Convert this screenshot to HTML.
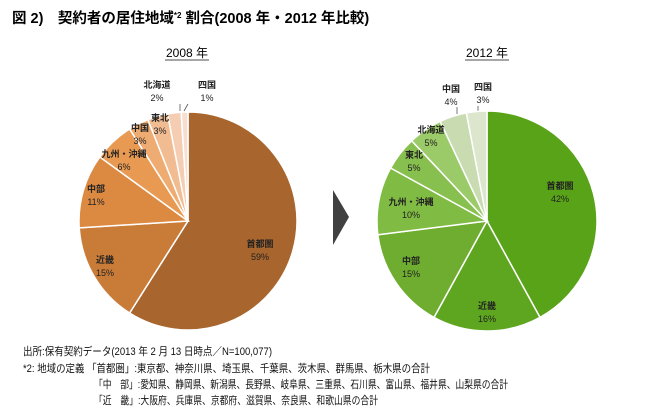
<!DOCTYPE html>
<html><head><meta charset="utf-8">
<style>
body{margin:0;background:#fff;}
svg text{font-family:"Liberation Sans","Noto Sans CJK JP",sans-serif;}
.lbl{font-size:9px;font-weight:bold;fill:#222;text-anchor:middle;}
.ft{font-size:11px;fill:#111;}
</style></head>
<body>
<svg id="chart" width="650" height="414" xmlns="http://www.w3.org/2000/svg">
<text x="12" y="23" style="font-size:14.5px;font-weight:bold">図 2)　契約者の居住地域<tspan dy="-5" font-size="8">*2</tspan><tspan dy="5"> 割合(2008 年・2012 年比較)</tspan></text>
<text x="187" y="57" style="font-size:12px" text-anchor="middle">2008 年</text>
<line x1="165" y1="60" x2="209" y2="60" stroke="#111" stroke-width="0.8"/>
<text x="487" y="57" style="font-size:12px" text-anchor="middle">2012 年</text>
<line x1="465" y1="60" x2="509" y2="60" stroke="#111" stroke-width="0.8"/>
<polygon points="333,190 349,217 333,245" fill="#404040"/>
<g stroke="#555" stroke-width="0.8">
<line x1="180" y1="104" x2="180" y2="111"/>
<line x1="184" y1="111" x2="188" y2="104"/>
<line x1="457" y1="107" x2="457" y2="114"/>
<line x1="478" y1="106" x2="478" y2="112"/>
</g>
<g id="p1"></g><g id="p2"></g>
<g>
<text class="ft" x="23" y="355" textLength="249" lengthAdjust="spacingAndGlyphs">出所:保有契約データ(2013 年 2 月 13 日時点／N=100,077)</text>
<text class="ft" x="23" y="372" textLength="407" lengthAdjust="spacingAndGlyphs">*2:  地域の定義 「首都圏」:東京都、神奈川県、埼玉県、千葉県、茨木県、群馬県、栃木県の合計</text>
<text class="ft" x="94" y="388" textLength="414" lengthAdjust="spacingAndGlyphs">「中　部」:愛知県、静岡県、新潟県、長野県、岐阜県、三重県、石川県、富山県、福井県、山梨県の合計</text>
<text class="ft" x="94" y="404" textLength="284" lengthAdjust="spacingAndGlyphs">「近　畿」:大阪府、兵庫県、京都府、滋賀県、奈良県、和歌山県の合計</text>
</g>
</svg>
<script>
const cats1=["首都圏","近畿","中部","九州・沖縄","中国","東北","北海道","四国"];
const vals1=[59,15,11,6,3,3,2,1];
const cats2=["首都圏","近畿","中部","九州・沖縄","東北","北海道","中国","四国"];
const vals2=[42,16,15,10,5,5,4,3];
const cols1=["#a8652d","#c97b38","#dc8a42","#e99a52","#eeab72","#f2bc92","#f5cdb2","#f8ded0"];
const cols2=["#59a318","#5ea61f","#6ead30","#80bb43","#88c050","#9bca68","#c9dbb1","#dce6cd"];
const lab1=[[260,247],[105,263],[96,192],[124,157],[140,131],[160,121],[157,88],[207,88]];
const lab2=[[560,189],[487,309],[411,264],[411,205],[414,158],[431,133],[451,92],[483,90]];
const NS="http://www.w3.org/2000/svg";
function pie(gid,cx,cy,r,cats,vals,cols,labs){
  const g=document.getElementById(gid);
  const tot=vals.reduce((a,b)=>a+b,0);
  let a0=-Math.PI/2;
  vals.forEach((v,i)=>{
    const a1=a0+v/tot*2*Math.PI;
    const x0=cx+r*Math.cos(a0),y0=cy+r*Math.sin(a0),x1=cx+r*Math.cos(a1),y1=cy+r*Math.sin(a1);
    const p=document.createElementNS(NS,"path");
    p.setAttribute("d",`M${cx},${cy}L${x0},${y0}A${r},${r} 0 ${a1-a0>Math.PI?1:0} 1 ${x1},${y1}Z`);
    p.setAttribute("fill",cols[i]);p.setAttribute("stroke","#fff");p.setAttribute("stroke-width","1.5");
    
    
    g.appendChild(p);
    a0=a1;
  });
  vals.forEach((v,i)=>{
    const [lx,ly]=labs[i];
    const t=document.createElementNS(NS,"text");
    t.setAttribute("class","lbl");t.setAttribute("x",lx);t.setAttribute("y",ly);
    t.innerHTML=cats[i]+`<tspan x="${lx}" dy="13" font-weight="normal">${v}%</tspan>`;
    
    
    g.appendChild(t);
  });
}
pie("p1",188,221,109,cats1,vals1,cols1,lab1);
pie("p2",487,221,110,cats2,vals2,cols2,lab2);
</script>
</body></html>
